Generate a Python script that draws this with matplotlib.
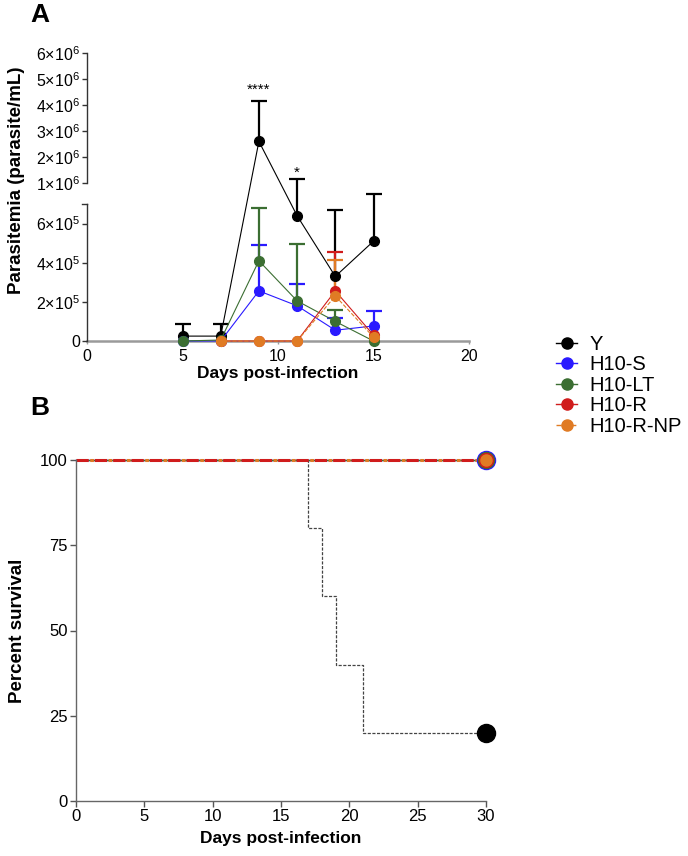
import numpy as np
import matplotlib
matplotlib.use("Agg")
import matplotlib.pyplot as plt
from matplotlib.lines import Line2D

plt.rcParams['font.family'] = ['Liberation Sans', 'DejaVu Sans']
plt.rcParams['mathtext.fontset'] = 'custom'
plt.rcParams['mathtext.rm'] = 'Liberation Sans'
plt.rcParams['mathtext.default'] = 'regular'

# Parasitemia data (panel A)
days = [5, 7, 9, 11, 13, 15]
y_mean = [2.5e4, 2.5e4, 2.6e6, 6.4e5, 3.3e5, 5.1e5]
y_sd = [6.2e4, 6.0e4, 1.55e6, 5.1e5, 3.4e5, 3.3e5]
s_mean = [0, 0, 2.56e5, 1.8e5, 5.5e4, 7.7e4]
s_sd = [0, 0, 2.35e5, 1.1e5, 6.5e4, 7.5e4]
lt_mean = [0, 5e3, 4.1e5, 2.05e5, 1.0e5, 0]
lt_sd = [0, 0, 2.7e5, 2.9e5, 6.0e4, 0]
r_days = [7, 9, 11, 13, 15]
r_mean = [0, 0, 0, 2.56e5, 3.0e4]
r_sd = [0, 0, 0, 2.0e5, 0]
np_mean = [0, 0, 0, 2.3e5, 2.0e4]
np_sd = [0, 0, 0, 1.85e5, 0]

# Survival data (panel B)
y_surv_t = [0, 17, 18, 19, 21, 30]
y_surv = [100, 80, 60, 40, 20, 20]
other_surv_t = [0, 30]
other_surv = [100, 100]

labels = ['Y', 'H10-S', 'H10-LT', 'H10-R', 'H10-R-NP']
colors = ['#000000', '#2a1aff', '#3b6e32', '#d01c1c', '#e07b24']

low_ticks = [0, 2e5, 4e5, 6e5]
low_labels = ['0', '2×10$^{5}$', '4×10$^{5}$', '6×10$^{5}$']
high_ticks = [1e6, 2e6, 3e6, 4e6, 5e6, 6e6]
high_labels = ['%d×10$^{6}$' % i for i in range(1, 7)]


# broken y axis: 0-7e5 and 1e6-6e6 on one axes
def fwd(v):
    v = np.asarray(v, float)
    return np.where(v <= 7e5, v / 7e5 * 137,
                    np.where(v <= 1e6, 137 + (v - 7e5) / 3e5 * 21,
                             158 + (v - 1e6) / 1e6 * 26))


def inv(p):
    p = np.asarray(p, float)
    return np.where(p <= 137, p / 137 * 7e5,
                    np.where(p <= 158, 7e5 + (p - 137) / 21 * 3e5,
                             1e6 + (p - 158) / 26 * 1e6))


fig = plt.figure(figsize=(6.88, 8.56), dpi=100)

# ---- Panel A ----
ax1 = fig.add_axes([87/688, 1 - 341/856, 382/688, 288/856])
ax1.set_yscale('function', functions=(fwd, inv))
ax1.set_xlim(0, 20)
ax1.set_ylim(0, 6e6)

series = [
    (days, y_mean, y_sd, colors[0], '-'),
    (days, s_mean, s_sd, colors[1], '-'),
    (days, lt_mean, lt_sd, colors[2], '-'),
    (r_days, r_mean, r_sd, colors[3], '-'),
    (r_days, np_mean, np_sd, colors[4], '--'),
]
# upper-only error bars
for x, m, sd, c, ls in series:
    x = np.array(x); m = np.array(m); sd = np.array(sd)
    k = sd > 0
    ax1.vlines(x[k], m[k], m[k] + sd[k], color=c, lw=1.6, clip_on=False, zorder=2)
    ax1.plot(x[k], m[k] + sd[k], '_', color=c, ms=11, mew=1.6, clip_on=False, zorder=2)
for x, m, sd, c, ls in series:
    ax1.plot(x, m, ls, color=c, lw=0.8, marker='o', ms=7,
             clip_on=False, zorder=3)

ax1.text(9, 4.6e6, '****', ha='center', va='center', fontsize=11)
ax1.text(11, 1.38e6, '*', ha='center', va='center', fontsize=11)

ax1.set_yticks(low_ticks + high_ticks)
ax1.set_yticklabels(low_labels + high_labels)
ax1.set_xticks([0, 5, 10, 15, 20])
ax1.tick_params(axis='y', length=3.5, width=1, color='#333333', labelsize=11.5, pad=1.5)
ax1.tick_params(axis='x', length=2.5, width=1, color='#9a9a9a', labelsize=11.5, pad=3)
for s in ['top', 'right', 'left']:
    ax1.spines[s].set_visible(False)
ax1.spines['bottom'].set_color('#9a9a9a')
ax1.spines['bottom'].set_linewidth(1.8)
ax1.spines['bottom'].set_zorder(1)
# the two y-axis segments
yt = ax1.get_yaxis_transform()
ax1.plot([0, 0], [0, 7e5], color='#333333', lw=1, transform=yt, clip_on=False)
ax1.plot([0, 0], [1e6, 6e6], color='#333333', lw=1, transform=yt, clip_on=False)
ax1.plot([-0.012, 0], [7e5, 7e5], color='#333333', lw=1, transform=yt, clip_on=False)
ax1.set_xlabel('Days post-infection', fontsize=12.5, fontweight='bold', labelpad=2)
fig.text(17/688, 1 - 180/856, 'Parasitemia (parasite/mL)', rotation=90,
         ha='center', va='center', fontsize=13.5, fontweight='bold')

# ---- Panel B ----
ax2 = fig.add_axes([76/688, 1 - 801/856, 410/688, 341/856])
ax2.set_xlim(0, 30)
ax2.set_ylim(0, 100)
ax2.step(y_surv_t, y_surv, where='post', color='#444444', lw=0.9,
         ls=(0, (2.5, 1.2)), clip_on=False)
ax2.plot(y_surv_t[-1], y_surv[-1], 'o', color='black', ms=13, clip_on=False)
ax2.step(other_surv_t, other_surv, where='post', color=colors[1], lw=1,
         clip_on=False)
ax2.step(other_surv_t, other_surv, where='post', color=colors[2], lw=1,
         clip_on=False)
ax2.step(other_surv_t, other_surv, where='post', color=colors[3], lw=2.2,
         ls=(0, (4, 2)), clip_on=False)
ax2.step(other_surv_t, other_surv, where='post', color=colors[4], lw=2.2,
         ls=(1.5, (1.2, 4.8)), clip_on=False)
for c, ms in zip(colors[1:], [13, 11.5, 10, 8]):
    ax2.plot(other_surv_t[-1], other_surv[-1], 'o', color=c, ms=ms,
             clip_on=False, zorder=4)
ax2.set_xticks([0, 5, 10, 15, 20, 25, 30])
ax2.set_yticks([0, 25, 50, 75, 100])
ax2.tick_params(length=4, width=1, color='#555555', labelsize=12, pad=2)
for s in ['top', 'right']:
    ax2.spines[s].set_visible(False)
for s in ['left', 'bottom']:
    ax2.spines[s].set_color('#666666')
    ax2.spines[s].set_linewidth(1)
ax2.set_xlabel('Days post-infection', fontsize=12.5, fontweight='bold', labelpad=5)
ax2.set_ylabel('Percent survival', fontsize=13.5, fontweight='bold', labelpad=10)

# legend
handles = [Line2D([], [], color=c, lw=1, ls=('--' if i == 4 else '-'),
                  marker='o', ms=8) for i, c in enumerate(colors)]
fig.legend(handles, labels, loc='upper left', bbox_to_anchor=(556/688, 1 - 335/856),
           frameon=False, fontsize=14.5, numpoints=1, handlelength=1.05,
           handletextpad=0.6, labelspacing=0.07, borderpad=0, borderaxespad=0)

fig.text(40/688, 1 - 15/856, 'A', fontsize=19, fontweight='bold', ha='center', va='center')
fig.text(40/688, 1 - 408/856, 'B', fontsize=19, fontweight='bold', ha='center', va='center')

fig.savefig('out.png', dpi=100)
